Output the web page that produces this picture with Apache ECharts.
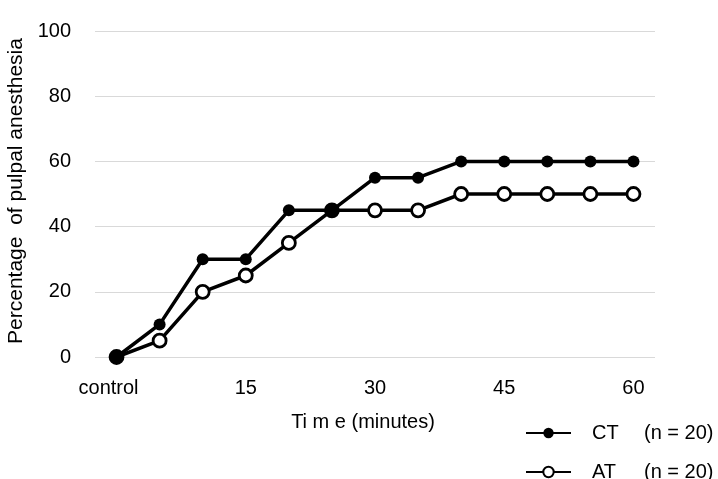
<!DOCTYPE html>
<html><head><meta charset="utf-8">
<script src="https://cdn.jsdelivr.net/npm/echarts@6/dist/echarts.min.js"></script>
<style>html,body{margin:0;padding:0;background:#fff}#c{width:718px;height:479px}</style>
</head><body><div id="c"></div>
<script>
const categories = ['control','5','10','15','20','25','30','35','40','45','50','55','60'];
const ctValues = [0,10,30,30,45,45,55,55,60,60,60,60,60];
const atValues = [0,5,20,25,35,45,45,45,50,50,50,50,50];
const yTicks = [0,20,40,60,80,100];
const ff = 'Liberation Sans, Arial, sans-serif';
const chart = echarts.init(document.getElementById('c'));
const legendText = {color:'#000',fontSize:20,fontFamily:ff,
  rich:{a:{width:52,fontSize:20,padding:[0,0,0,16]},b:{fontSize:20}}};
chart.setOption({
  animation:false,
  textStyle:{fontFamily:ff},
  grid:{left:95,right:63,top:31,bottom:122,containLabel:false,outerBoundsMode:'none'},
  xAxis:{type:'category',data:categories,boundaryGap:true,
    axisLine:{show:false},axisTick:{show:false},
    axisLabel:{interval:2,color:'#000',fontSize:20,margin:21,fontFamily:ff,
      formatter:v=>v==='control'?'{c|'+v+'}':v,
      rich:{c:{fontSize:20,color:'#000',padding:[0,16,0,0]}}},
    name:'Ti m e (minutes)',nameLocation:'middle',nameGap:55,
    nameTextStyle:{color:'#000',fontSize:20,fontFamily:ff,padding:[0,24,0,0]}},
  yAxis:{type:'value',min:0,max:100,interval:20,
    axisLine:{show:false},axisTick:{show:false},
    splitLine:{lineStyle:{color:'#d9d9d9',width:1}},
    axisLabel:{color:'#000',fontSize:20,margin:24,fontFamily:ff,formatter:v=>yTicks.includes(v)?String(v):''},
    name:'Percentage  of pulpal anesthesia',nameLocation:'middle',nameGap:68,
    nameTextStyle:{color:'#000',fontSize:21,fontFamily:ff,padding:[0,0,0,6]}},
  legend:[
    {left:520,top:418,itemWidth:45,itemHeight:13,data:['CT'],
      formatter:n=>'{a|'+n+'}{b|(n = 20)}',textStyle:legendText},
    {left:520,top:457,itemWidth:45,itemHeight:13,data:['AT'],
      formatter:n=>'{a|'+n+'}{b|(n = 20)}',textStyle:legendText}
  ],
  series:[
    {name:'AT',type:'line',data:atValues,z:2,symbol:'circle',symbolSize:13,
      lineStyle:{color:'#000',width:3.5},
      itemStyle:{color:'#fff',borderColor:'#000',borderWidth:2.8}},
    {name:'CT',type:'line',data:ctValues,z:3,symbol:'circle',symbolSize:12,
      lineStyle:{color:'#000',width:3.5},
      itemStyle:{color:'#000',borderColor:'#000',borderWidth:0}}
  ]
});
</script></body></html>
